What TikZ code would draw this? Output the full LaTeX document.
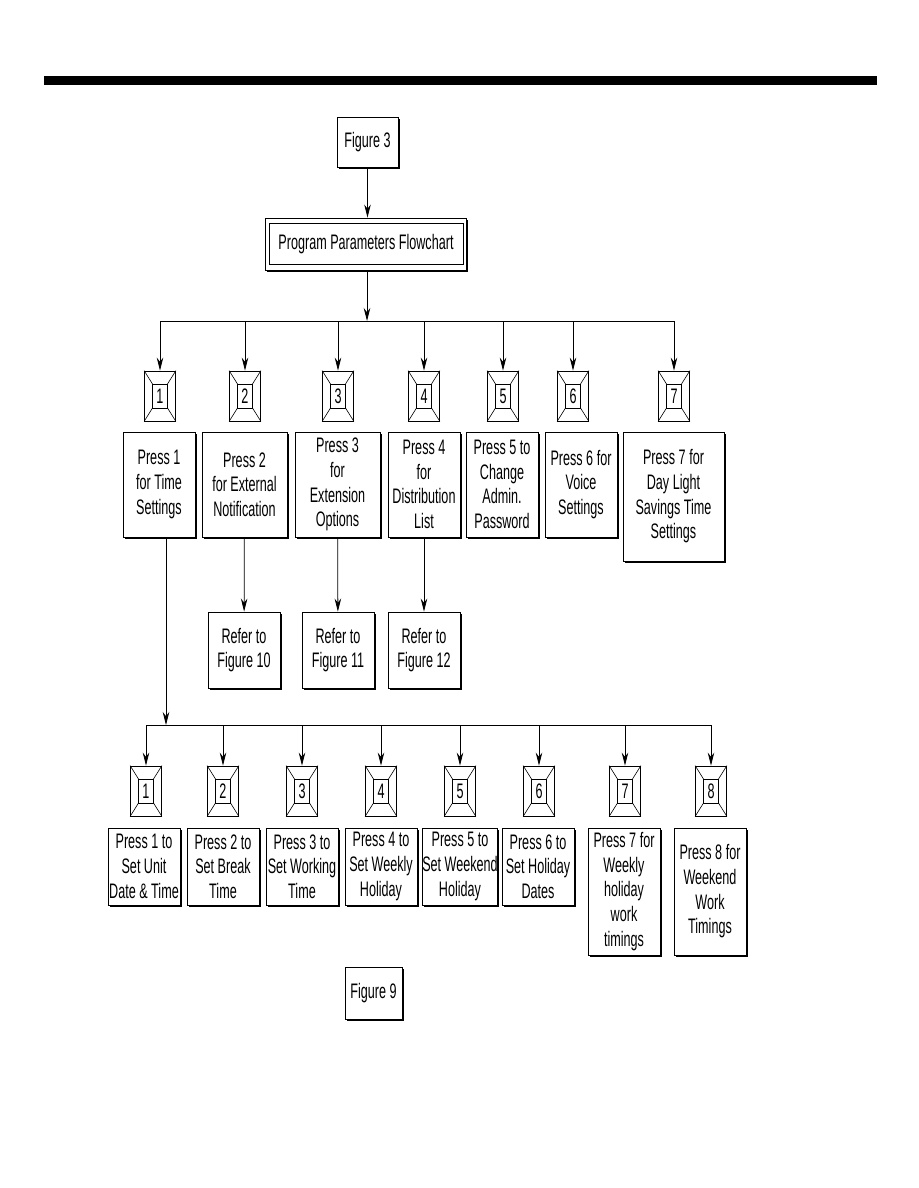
\documentclass[tikz,border=0pt]{standalone}
\usepackage{fontspec}
\setmainfont{Liberation Sans}[FakeStretch=0.6]
\usetikzlibrary{arrows.meta,shadows}
\begin{document}
\begin{tikzpicture}[x=1pt,y=-1pt,
  every node/.style={font=\fontsize{21}{24.7}\selectfont, inner sep=0pt, align=center},
  box/.style={draw, line width=0.9pt, fill=white, drop shadow={shadow xshift=1.6pt, shadow yshift=-1.6pt, fill=black, opacity=1}},
  keybox/.style={draw, line width=0.8pt, minimum width=31pt, minimum height=50pt},
  arr/.style={line width=0.8pt, -{Stealth[length=13pt,width=6.5pt]}},
  ln/.style={line width=0.8pt}]
\useasboundingbox (0,0) rectangle (918,1188);
\fill (44,76) rectangle (877,85);
% keys
\newcommand{\keyicon}[3]{%
  \node[keybox] (#1) at (#2) {};
  \draw[line width=0.8pt] ([shift={(-7.5pt,12pt)}]#1.center) rectangle ([shift={(7.5pt,-12pt)}]#1.center);
  \draw[line width=0.6pt] (#1.north west) -- ([shift={(-7.5pt,12pt)}]#1.center)
    (#1.north east) -- ([shift={(7.5pt,12pt)}]#1.center)
    (#1.south west) -- ([shift={(-7.5pt,-12pt)}]#1.center)
    (#1.south east) -- ([shift={(7.5pt,-12pt)}]#1.center);
  \node at (#1.center) {#3};}
% Figure 3
\node[box, minimum width=61pt, minimum height=50pt] (fig3) at (367.5,142) {Figure 3};
\node[box, minimum width=201pt, minimum height=52pt] (prog) at (365.5,244) {};
\draw[line width=0.8pt] ([shift={(5pt,-6pt)}]prog.north west) rectangle ([shift={(-3pt,6pt)}]prog.south east);
\node at (366,244) {Program Parameters Flowchart};
\draw[arr] (fig3.south) -- (fig3.south |- prog.north);
\coordinate (j1) at (367,321);
\draw[arr] (prog.south -| j1) -- (j1);
% top keys
\keyicon{k1}{160,396}{1}
\keyicon{k2}{245,396}{2}
\keyicon{k3}{338,396}{3}
\keyicon{k4}{424,396}{4}
\keyicon{k5}{503,396}{5}
\keyicon{k6}{573,396}{6}
\keyicon{k7}{674,396}{7}
\draw[ln] (k1 |- j1) -- (k7 |- j1);
\foreach \k in {k1,k2,k3,k4,k5,k6,k7} \draw[arr] (\k |- j1) -- (\k);
% top boxes
\node[box, minimum width=72pt, minimum height=105pt] (b1) at (159,484.5) {Press 1\\for Time\\Settings};
\node[box, minimum width=85pt, minimum height=105pt] (b2) at (244.5,484.5) {Press 2\\for External\\Notification};
\node[box, minimum width=85pt, minimum height=105pt] (b3) at (337.5,484.5) {Press 3\\for\\Extension\\Options};
\node[box, minimum width=72pt, minimum height=105pt] (b4) at (424,484.5) {Press 4\\for\\Distribution\\List};
\node[box, minimum width=72pt, minimum height=105pt] (b5) at (502,484.5) {Press 5 to\\Change\\Admin.\\Password};
\node[box, minimum width=72pt, minimum height=105pt] (b6) at (581,484.5) {Press 6 for\\Voice\\Settings};
\node[box, minimum width=101pt, minimum height=129pt] (b7) at (673.5,496.5) {Press 7 for\\Day Light\\Savings Time\\Settings};
% refer boxes
\node[box, minimum width=72pt, minimum height=76pt] (r2) at (244,650) {Refer to\\Figure 10};
\node[box, minimum width=72pt, minimum height=76pt] (r3) at (338,650) {Refer to\\Figure 11};
\node[box, minimum width=72pt, minimum height=76pt] (r4) at (424,650) {Refer to\\Figure 12};
\draw[arr] (b2) -- (r2);
\draw[arr] (b3) -- (r3);
\draw[arr] (b4) -- (r4);
% time settings branch
\coordinate (j2) at (166,725);
\draw[arr] (b1.south -| j2) -- (j2);
\keyicon{s1}{146,791}{1}
\keyicon{s2}{223,791}{2}
\keyicon{s3}{302,791}{3}
\keyicon{s4}{381,791}{4}
\keyicon{s5}{460,791}{5}
\keyicon{s6}{539,791}{6}
\keyicon{s7}{625,791}{7}
\keyicon{s8}{711,791}{8}
\draw[ln] (s1 |- j2) -- (s8 |- j2);
\foreach \k in {s1,s2,s3,s4,s5,s6,s7,s8} \draw[arr] (\k |- j2) -- (\k);
\node[box, minimum width=72pt, minimum height=77pt] (t1) at (144,866.5) {Press 1 to\\Set Unit\\Date \& Time};
\node[box, minimum width=72pt, minimum height=77pt] (t2) at (223,866.5) {Press 2 to\\Set Break\\Time};
\node[box, minimum width=72pt, minimum height=77pt] (t3) at (302,866.5) {Press 3 to\\Set Working\\Time};
\node[box, minimum width=72pt, minimum height=77pt] (t4) at (381,866.5) {Press 4 to\\Set Weekly\\Holiday};
\node[box, minimum width=72pt, minimum height=77pt] (t5) at (460,866.5) {Press 5 to\\Set Weekend\\Holiday};
\node[box, minimum width=72pt, minimum height=77pt] (t6) at (538,866.5) {Press 6 to\\Set Holiday\\Dates};
\node[box, minimum width=72pt, minimum height=127pt] (t7) at (624,891.5) {Press 7 for\\Weekly\\holiday\\work\\timings};
\node[box, minimum width=72pt, minimum height=127pt] (t8) at (710,891.5) {Press 8 for\\Weekend\\Work\\Timings};
\node[box, minimum width=57pt, minimum height=52pt] (fig9) at (373.5,993) {Figure 9};
\end{tikzpicture}
\end{document}
